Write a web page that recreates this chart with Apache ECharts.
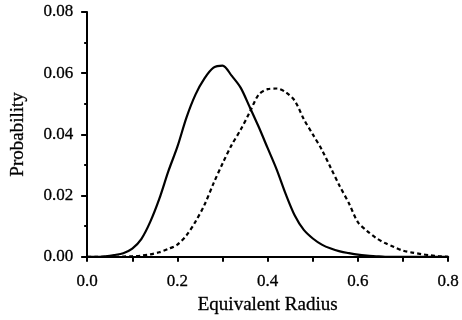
<!DOCTYPE html>
<html>
<head>
<meta charset="utf-8">
<script src="https://cdn.jsdelivr.net/npm/echarts@6/dist/echarts.min.js"></script>
<style>
  html, body { margin: 0; padding: 0; background: #fff; }
  #chart { width: 462px; height: 320px; }
</style>
</head>
<body>
<div id="chart"></div>
<script>
// radius samples, step 0.02
const radius = [0.00, 0.02, 0.04, 0.06, 0.08, 0.10, 0.12, 0.14, 0.16, 0.18,
                0.20, 0.22, 0.24, 0.26, 0.28, 0.30, 0.32, 0.34, 0.36, 0.38,
                0.40, 0.42, 0.44, 0.46, 0.48, 0.50, 0.52, 0.54, 0.56, 0.58,
                0.60, 0.62, 0.64, 0.66, 0.68, 0.70, 0.72, 0.74, 0.76, 0.78, 0.80];
// solid curve
const probSolid = [0, 0, 0.0002, 0.0006, 0.0012, 0.0027, 0.0058, 0.0115, 0.0190, 0.0280,
                   0.0360, 0.0455, 0.0530, 0.0583, 0.0618, 0.0625, 0.0592, 0.0553, 0.0490, 0.0425,
                   0.0355, 0.0285, 0.0205, 0.0135, 0.0088, 0.0060, 0.0040, 0.0027, 0.0018, 0.0012,
                   0.0007, 0.0004, 0.0002, 0, 0, 0, 0, 0, 0, 0, 0];
// dashed curve
const probDashed = [0, 0, 0, 0, 0.0001, 0.0002, 0.0004, 0.0008, 0.0015, 0.0026,
                    0.0040, 0.0070, 0.0115, 0.0170, 0.0240, 0.0305, 0.0365, 0.0415, 0.0472, 0.0530,
                    0.0548, 0.0550, 0.0538, 0.0510, 0.0450, 0.0400, 0.0350, 0.0290, 0.0230, 0.0175,
                    0.0113, 0.0085, 0.0062, 0.0045, 0.0032, 0.0020, 0.0014, 0.0009, 0.0005, 0.0002, 0];

const font = '"Liberation Serif", "Times New Roman", serif';

let myChart = echarts.init(document.getElementById('chart'));
let option = {
    animation: false,
    grid: {
        left: 86,
        right: 11,
        top: 12,
        bottom: 53,
        containLabel: false
    },
    xAxis: {
        type: 'value',
        min: 0,
        max: 0.8,
        interval: 0.2,
        name: 'Equivalent Radius',
        nameLocation: 'middle',
        nameGap: 39,
        nameTextStyle: { fontFamily: font, fontSize: 19, color: '#000', textBorderColor: '#000', textBorderWidth: 0.3 },
        axisLine: { onZero: false, lineStyle: { color: '#000', width: 2 } },
        axisTick: { show: true, length: 5, lineStyle: { color: '#000', width: 2 } },
        minorTick: { show: true, splitNumber: 2, length: 5, lineStyle: { color: '#000', width: 2 } },
        splitLine: { show: false },
        axisLabel: {
            fontFamily: font, fontSize: 17, color: '#000', margin: 16,
            textBorderColor: '#000', textBorderWidth: 0.3,
            formatter: function (v) { return v.toFixed(1); }
        }
    },
    yAxis: {
        type: 'value',
        min: 0,
        max: 0.08,
        interval: 0.02,
        name: 'Probability',
        nameLocation: 'middle',
        nameGap: 60,
        nameTextStyle: { fontFamily: font, fontSize: 19, color: '#000', textBorderColor: '#000', textBorderWidth: 0.3 },
        axisLine: { show: true, lineStyle: { color: '#000', width: 2 } },
        axisTick: { show: true, length: 6, lineStyle: { color: '#000', width: 2 } },
        minorTick: { show: true, splitNumber: 2, length: 3, lineStyle: { color: '#000', width: 2 } },
        splitLine: { show: false },
        axisLabel: {
            fontFamily: font, fontSize: 17, color: '#000', margin: 14,
            textBorderColor: '#000', textBorderWidth: 0.3,
            formatter: function (v) { return v.toFixed(2); }
        }
    },
    series: [
        {
            type: 'line',
            data: radius.map((r, i) => [r, probSolid[i]]),
            showSymbol: false,
            smooth: 0.3,
            lineStyle: { color: '#000', width: 2.2, type: 'solid' }
        },
        {
            type: 'line',
            data: radius.map((r, i) => [r, probDashed[i]]),
            showSymbol: false,
            smooth: 0.3,
            lineStyle: { color: '#000', width: 2.2, type: [4, 3] }
        }
    ]
};
myChart.setOption(option);
</script>
</body>
</html>
